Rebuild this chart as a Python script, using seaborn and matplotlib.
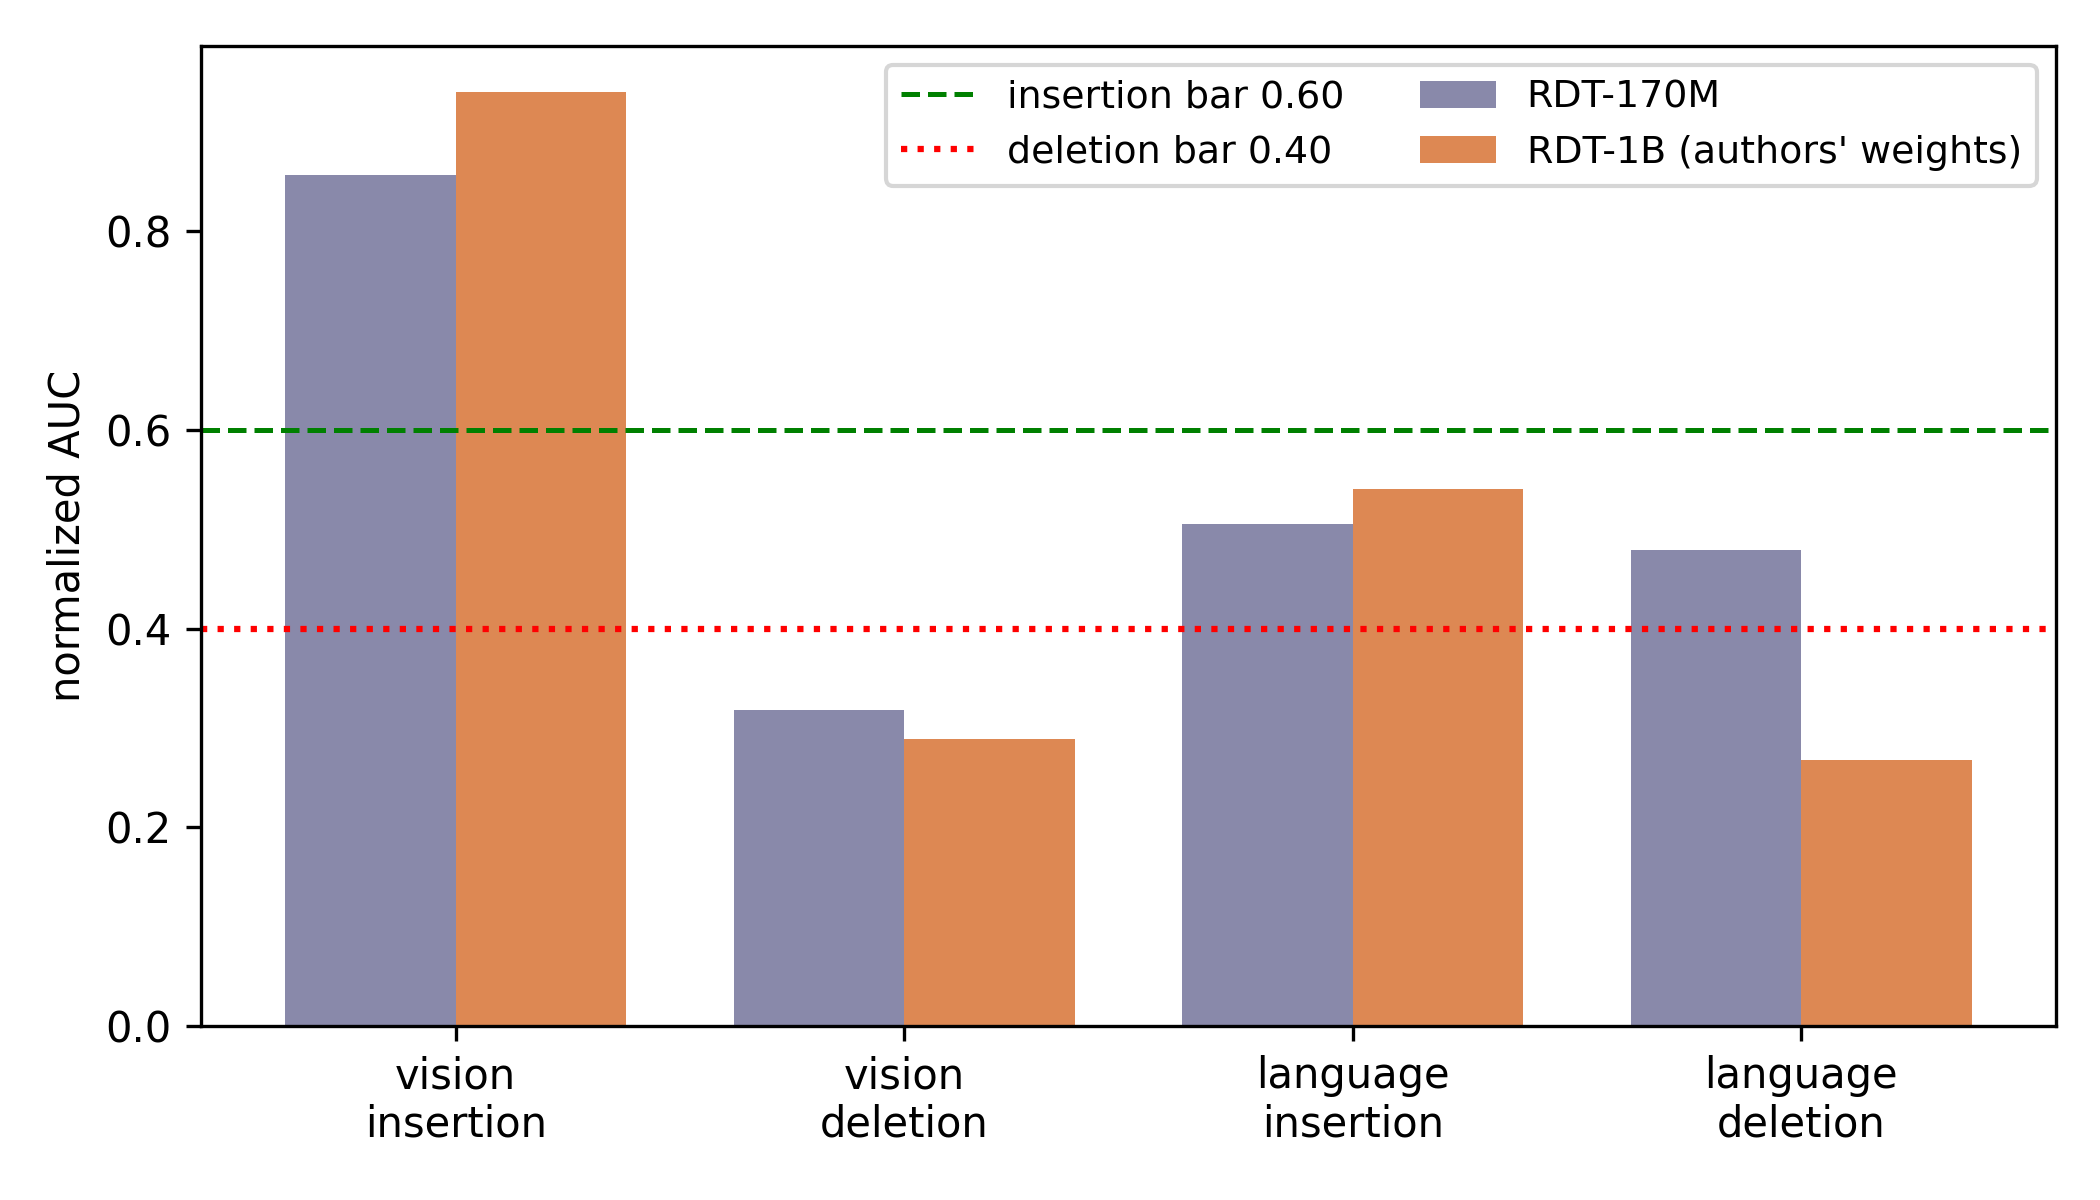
import pandas as pd
import matplotlib
matplotlib.use("Agg")
import matplotlib.pyplot as plt
import seaborn as sns

# categories and series values
categories = ["vision\ninsertion", "vision\ndeletion", "language\ninsertion", "language\ndeletion"]
models = ["RDT-170M", "RDT-1B (authors' weights)"]
rdt_170m = [0.857, 0.318, 0.505, 0.479]
rdt_1b = [0.940, 0.289, 0.541, 0.268]
insertion_bar = 0.60
deletion_bar = 0.40
colors = ["#8989aa", "#dd8853"]

df = pd.DataFrame({
    "metric": categories * 2,
    "model": [models[0]] * 4 + [models[1]] * 4,
    "auc": rdt_170m + rdt_1b,
})

plt.rcParams["font.family"] = ["DejaVu Sans"]

fig, ax = plt.subplots(figsize=(7, 4), dpi=300)
sns.barplot(data=df, x="metric", y="auc", hue="model", palette=colors,
            width=0.76, saturation=1, linewidth=0, ax=ax, legend=True)

ax.axhline(insertion_bar, color="green", linestyle="--", linewidth=1.2,
           label=f"insertion bar {insertion_bar:.2f}")
ax.axhline(deletion_bar, color="red", linestyle=":", linewidth=1.5,
           label=f"deletion bar {deletion_bar:.2f}")

ax.set_xlim(-0.568, 3.568)
ax.set_ylim(0, 0.987)
ax.set_xlabel("")
ax.set_ylabel("normalized AUC")
ax.set_yticks([0.0, 0.2, 0.4, 0.6, 0.8])

# lines first, then bars, in two columns
handles, labels = ax.get_legend_handles_labels()
order = [labels.index(f"insertion bar {insertion_bar:.2f}"),
         labels.index(f"deletion bar {deletion_bar:.2f}"),
         labels.index(models[0]), labels.index(models[1])]
ax.legend([handles[i] for i in order], [labels[i] for i in order],
          ncol=2, loc="upper right", title=None, fontsize=9.1)

fig.subplots_adjust(left=0.0957, right=0.979, top=0.962, bottom=0.145)
fig.savefig("out.png", dpi=300)
